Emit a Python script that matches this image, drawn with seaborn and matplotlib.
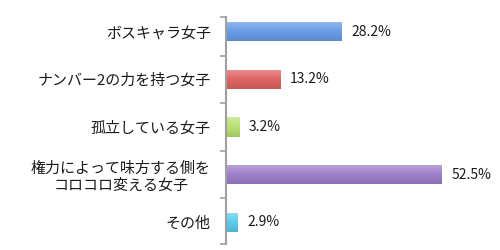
import matplotlib
matplotlib.use("Agg")
import matplotlib.pyplot as plt
import matplotlib.colors as mcolors
import seaborn as sns
import pandas as pd
import numpy as np

categories = ["ボスキャラ女子", "ナンバー2の力を持つ女子", "孤立している女子",
              "権力によって味方する側を\nコロコロ変える女子", "その他"]
values = [28.2, 13.2, 3.2, 52.5, 2.9]
value_labels = ["28.2%", "13.2%", "3.2%", "52.5%", "2.9%"]
colors = ["#6a9de6", "#e26464", "#b8e072", "#9f80cc", "#5ccdec"]

sns.set_theme(style="white")
plt.rcParams['font.family'] = ['Noto Sans CJK JP', 'DejaVu Sans']

df = pd.DataFrame({"cat": categories, "val": values})

fig = plt.figure(figsize=(5, 2.5), dpi=100)
ax = fig.add_axes([226/500, 1 - 246/250, 1 - 226/500, (246 - 8)/250])
sns.barplot(data=df, y="cat", x="val", hue="cat", palette=colors, orient="h",
            width=0.4, legend=False, ax=ax, saturation=1)

# subtle vertical gradient on each bar (lighter top, darker bottom)
grad = np.linspace(0, 1, 64).reshape(-1, 1)
for p, c in zip(list(ax.patches), colors):
    base = np.array(mcolors.to_rgb(c))
    light = base + (1 - base) * 0.3
    dark = base * 0.88
    cmap = mcolors.LinearSegmentedColormap.from_list("g", [light, base, dark])
    x0, y0 = p.get_x(), p.get_y()
    w, h = p.get_width(), p.get_height()
    im = ax.imshow(grad, cmap=cmap, aspect="auto",
                   extent=[x0, x0 + w, y0 + h, y0], zorder=p.get_zorder() + 0.1,
                   interpolation="bilinear")
    im.set_clip_path(p)

for p, lab in zip(ax.patches, value_labels):
    ax.text(p.get_width() + 2.3, p.get_y() + p.get_height() / 2, lab,
            va="center", ha="left", fontsize=10, color="#1a1a1a")

ax.set_xlim(0, 274 / 4.11)
ax.set_ylim(4.5, -0.5)
ax.set_xlabel("")
ax.set_ylabel("")
ax.set_xticks([])
ax.set_yticks([-0.31, 0.5, 1.5, 2.5, 3.5, 4.45], minor=False)
ax.set_yticklabels([])
ax.set_yticks(range(5), minor=True)
ax.set_yticklabels(categories, minor=True, fontsize=10.8, color="#1a1a1a",
                   linespacing=1.2)
for t in ax.get_yticklabels(minor=True):
    t.set_multialignment("center")
ax.tick_params(axis="y", which="major", left=True, length=4, width=1.2,
               color="#a0a0a0", direction="out")
ax.tick_params(axis="y", which="minor", left=False, length=0, pad=11)
for s in ["top", "right", "bottom"]:
    ax.spines[s].set_visible(False)
ax.spines["left"].set_color("#a0a0a0")
ax.spines["left"].set_linewidth(1.5)
ax.spines["left"].set_bounds(-0.31, 4.45)

fig.savefig("out.png", dpi=100)
